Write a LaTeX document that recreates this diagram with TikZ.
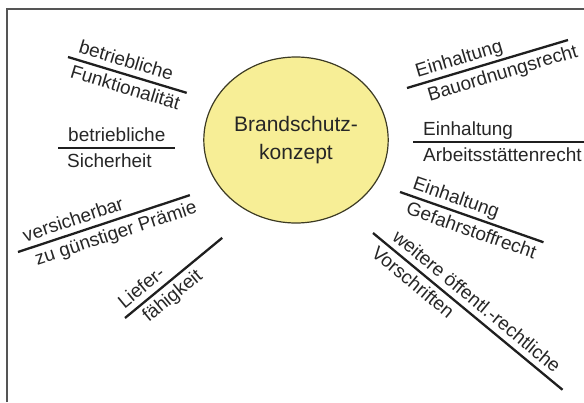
\documentclass[tikz,border=0pt]{standalone}
\usepackage{fontspec}
\setmainfont{Liberation Sans}
\usetikzlibrary{shapes.geometric}
\definecolor{kreisgelb}{RGB}{247,238,150}
\definecolor{kreisrand}{RGB}{60,58,35}
\definecolor{rahmen}{RGB}{85,85,85}
\tikzset{
  bar/.style={line width=2.3pt,draw=black!88},
  txt/.style={inner sep=0pt,text=black!85,font=\fontsize{19}{22}\selectfont},
}
\begin{document}
\begin{tikzpicture}[x=1pt,y=1pt]
\useasboundingbox (0,0) rectangle (584,-402);
\def\lb#1#2#3#4#5#6#7#8{
\begin{scope}[shift={(#2)},rotate=#3,transform shape]
\coordinate (#1s) at (0,0);
\coordinate (#1e) at (#4,0);
\draw[bar] (#1s) -- (#1e);
\node[txt,anchor=base west] (#1o) at (#7,7) {#5};
\node[txt,anchor=base west] (#1u) at (#8,-19) {#6};
\end{scope}
}
% Rahmen
\coordinate (ru) at (7,-402);
\coordinate (ro) at (7,-9);
\coordinate (rr) at (584,-9);
\draw[rahmen,line width=1.6pt] (ru) -- (ro) -- (rr);
% Kreis
\node[ellipse,draw=kreisrand,line width=1.2pt,fill=kreisgelb,minimum width=176,minimum height=166,
  align=center,text=black!85,font=\fontsize{21}{28}\selectfont] (konzept) at (296,-140) {Brandschutz-\\konzept};
% links
\lb{fkt}{68,-57}{-16.8}{124}{betriebliche}{Funktionalität}{8}{7}
\lb{sich}{58,-148}{0}{117}{betriebliche}{Sicherheit}{10}{9}
\lb{vers}{18,-252}{18.3}{181}{versicherbar}{zu günstiger Prämie}{10}{14}
\lb{lief}{125,-318}{39.5}{126}{Liefer-}{fähigkeit}{5}{15}
% rechts
\lb{bau}{407,-88}{16.6}{168}{Einhaltung}{Bauordnungsrecht}{13}{18}
\lb{arb}{413,-142}{0}{171}{Einhaltung}{Arbeitsstättenrecht}{10}{10}
\lb{gef}{400,-192}{-19.3}{152}{Einhaltung}{Gefahrstoffrecht}{10}{12}
\lb{vor}{373,-233}{-39.6}{246}{weitere öffentl.-rechtliche}{Vorschriften}{18}{12}
\end{tikzpicture}
\end{document}
